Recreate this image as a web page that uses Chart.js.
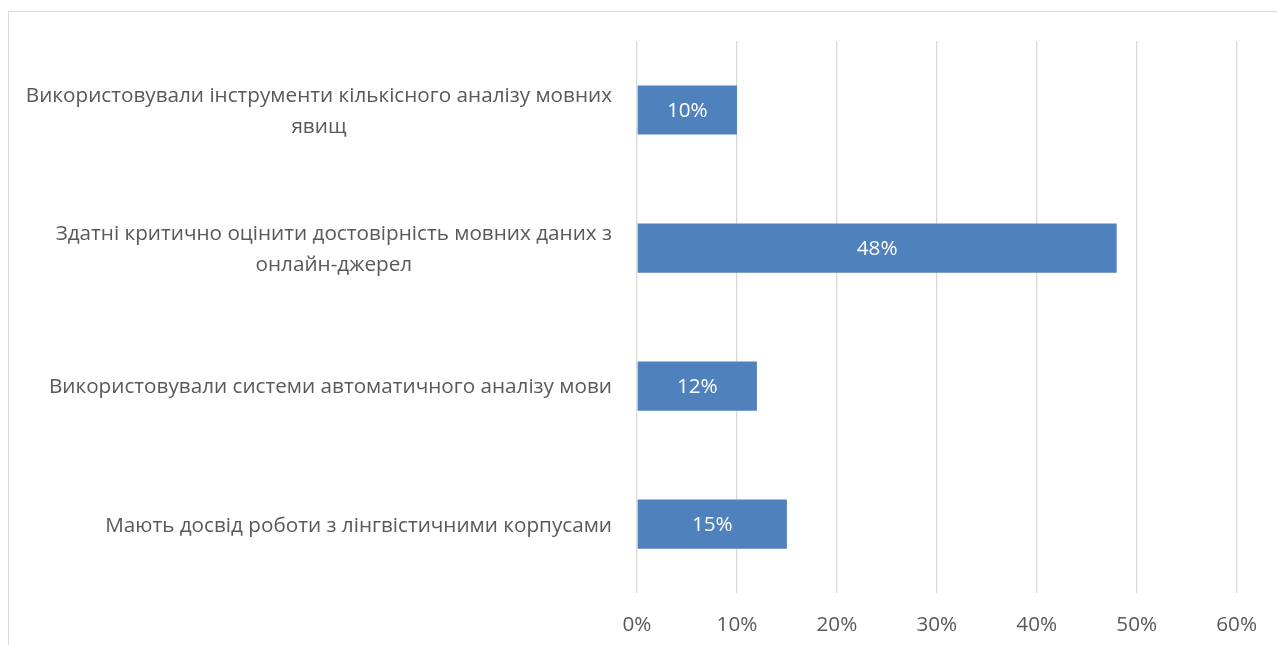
<!DOCTYPE html>
<html>
<head>
<meta charset="utf-8">
<script src="https://cdn.jsdelivr.net/npm/chart.js@4.4.0/dist/chart.umd.min.js"></script>
<style>
  html, body { margin: 0; padding: 0; background: #ffffff; }
  #wrap { position: relative; width: 1277px; height: 645px; overflow: hidden; }
  #frame { position: absolute; left: 8px; top: 11px; width: 1400px; height: 800px;
           border-top: 1px solid #d9d9d9; border-left: 1px solid #d9d9d9; box-sizing: border-box; }
  canvas { position: absolute; left: 0; top: 0; }
</style>
</head>
<body>
<div id="wrap">
  <div id="frame"></div>
  <canvas id="c" width="1277" height="667"></canvas>
</div>
<script>
const categories = [
  ['Використовували інструменти кількісного аналізу мовних', 'явищ'],
  ['Здатні критично оцінити достовірність мовних даних з', 'онлайн-джерел'],
  ['Використовували системи автоматичного аналізу мови'],
  ['Мають досвід роботи з лінгвістичними корпусами']
];
const values = [10, 48, 12, 15];
const xTicks = [0, 10, 20, 30, 40, 50, 60];

const FONT = '"Open Sans", "Noto Sans", sans-serif';
const TEXT = '#595959';
const SIZE = 20.7;

const yLabelPlugin = {
  id: 'yLabels',
  afterDraw(chart) {
    const ctx = chart.ctx;
    const y = chart.scales.y;
    const right = chart.chartArea.left - 25;
    const lh = 31;
    ctx.save();
    ctx.font = SIZE + 'px ' + FONT;
    ctx.fillStyle = TEXT;
    ctx.textAlign = 'center';
    ctx.textBaseline = 'middle';
    categories.forEach((lines, i) => {
      const cy = y.getPixelForTick(i) + 1.5;
      let maxW = 0;
      lines.forEach(l => { maxW = Math.max(maxW, ctx.measureText(l).width); });
      const cx = right - maxW / 2;
      const top = cy - (lines.length - 1) * lh / 2;
      lines.forEach((l, j) => ctx.fillText(l, cx, top + j * lh));
    });
    ctx.restore();
  }
};

const valueLabelPlugin = {
  id: 'valueLabels',
  afterDatasetsDraw(chart) {
    const ctx = chart.ctx;
    const meta = chart.getDatasetMeta(0);
    ctx.save();
    ctx.font = SIZE + 'px ' + FONT;
    ctx.fillStyle = '#ffffff';
    ctx.textAlign = 'center';
    ctx.textBaseline = 'middle';
    meta.data.forEach((bar, i) => {
      const p = bar.getProps(['x', 'y', 'base'], true);
      ctx.fillText(values[i] + '%', (p.x + p.base) / 2, p.y + 1);
    });
    ctx.restore();
  }
};

new Chart(document.getElementById('c'), {
  type: 'bar',
  data: {
    labels: categories,
    datasets: [{
      data: values,
      backgroundColor: '#4f81bd',
      borderWidth: 0,
      categoryPercentage: 1,
      barPercentage: 0.356
    }]
  },
  options: {
    indexAxis: 'y',
    responsive: false,
    animation: false,
    layout: { padding: { left: 637, right: 40, top: 41, bottom: 9 } },
    plugins: { legend: { display: false }, tooltip: { enabled: false } },
    scales: {
      x: {
        min: 0, max: 60,
        afterBuildTicks(scale) { scale.ticks = xTicks.map(v => ({ value: v })); },
        ticks: {
          callback: v => v + '%',
          color: TEXT,
          font: { family: FONT, size: SIZE },
          padding: 20,
          maxRotation: 0
        },
        grid: { color: '#d9d9d9', lineWidth: 1.3, drawTicks: false },
        border: { display: false }
      },
      y: {
        display: false
      }
    }
  },
  plugins: [yLabelPlugin, valueLabelPlugin]
});
</script>
</body>
</html>
